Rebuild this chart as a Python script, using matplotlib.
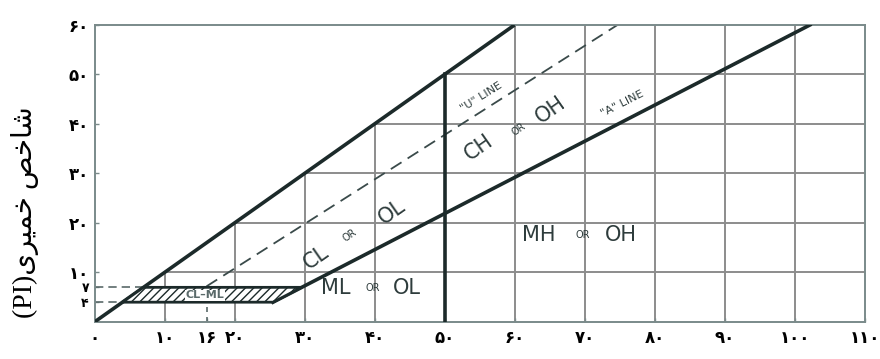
import matplotlib
matplotlib.use("Agg")
import matplotlib.pyplot as plt
from matplotlib.patches import Polygon

# ---- data ----
x_ticks = [0, 10, 16, 20, 30, 40, 50, 60, 70, 80, 90, 100, 110]
y_ticks = [4, 7, 10, 20, 30, 40, 50, 60]
grid_x = [10, 20, 30, 40, 50, 60, 70, 80, 90, 100]
grid_y = [10, 20, 30, 40, 50]

upper_ll = [0, 60]          # PI = LL limit line
upper_pi = [0, 60]
a_ll = [25.5, 102.2]        # "A" line
a_pi = [4, 60]
u_ll = [16, 74.7]           # "U" line
u_pi = [7.2, 60]
ll50_ll = [50, 50]
ll50_pi = [0, 50]
clml_ll = [4, 25.5, 29.6, 7]
clml_pi = [4, 4, 7, 7]

def fa(n):
    d = "۰۱۲۳۴۵۶۷۸۹"
    return "".join(d[int(c)] for c in str(n))

LINE = "#1c2a2a"
GRID = "#8c8c8c"
TXT = "#2e3c3c"

plt.rcParams["hatch.color"] = "#7a7a7a"
fig = plt.figure(figsize=(8.8, 3.59), dpi=100)
ax = fig.add_axes([0.1074, 0.1031, 0.875, 0.8273])
ax.set_xlim(0, 110)
ax.set_ylim(0, 60)

# grid segments only below the PI = LL line
for gy in grid_y:
    ax.plot([gy, 110], [gy, gy], color=GRID, lw=1.4, zorder=1)
for gx in grid_x:
    ax.plot([gx, gx], [0, min(gx, 60)], color=GRID, lw=1.4, zorder=1)

# main lines
ax.plot(upper_ll, upper_pi, color=LINE, lw=2.6, zorder=3, solid_capstyle="butt")
ax.plot(a_ll, a_pi, color=LINE, lw=2.6, zorder=3)
ax.plot(ll50_ll, ll50_pi, color=LINE, lw=2.6, zorder=3)
ax.plot(u_ll, u_pi, color="#3a4a4a", lw=1.3, ls=(0, (7, 4)), zorder=2)
ax.plot([u_ll[0], u_ll[0]], [0, u_pi[0]], color="#5a6a6a", lw=1.2, ls=(0, (3, 3)), zorder=2)
ax.plot([0, clml_ll[0]], [clml_pi[0], clml_pi[0]], color="#5a6a6a", lw=1.2, ls=(0, (5, 3)), zorder=2)
ax.plot([0, clml_ll[3]], [clml_pi[3], clml_pi[3]], color="#5a6a6a", lw=1.2, ls=(0, (5, 3)), zorder=2)

poly = Polygon(list(zip(clml_ll, clml_pi)), closed=True, facecolor="white",
               edgecolor=LINE, lw=2.0, hatch="////", zorder=3)
ax.add_patch(poly)

# labels
kw = dict(color=TXT, ha="center", va="center", zorder=5)
ax.text(15.8, 5.4, "CL–ML", fontsize=8, fontweight="bold", color="#5a6a6a",
        ha="center", va="center", zorder=6,
        bbox=dict(facecolor="white", edgecolor="none", pad=0.3))
ax.text(31.6, 13.1, "CL", fontsize=15, rotation=35, **kw)
ax.text(36.5, 17.4, "OR", fontsize=7, rotation=35, **kw)
ax.text(42.5, 22.2, "OL", fontsize=15, rotation=35, **kw)
ax.text(54.9, 35.2, "CH", fontsize=15, rotation=35, **kw)
ax.text(60.6, 39.0, "OR", fontsize=7, rotation=35, **kw)
ax.text(65.2, 42.8, "OH", fontsize=15, rotation=35, **kw)
ax.text(63.5, 17.6, "MH", fontsize=15, **kw)
ax.text(69.7, 17.6, "OR", fontsize=7, **kw)
ax.text(75.2, 17.6, "OH", fontsize=15, **kw)
ax.text(34.5, 6.9, "ML", fontsize=15, **kw)
ax.text(39.8, 6.9, "OR", fontsize=7, **kw)
ax.text(44.6, 6.9, "OL", fontsize=15, **kw)
ax.text(55.2, 45.5, '"U" LINE', fontsize=8, rotation=32, **kw)
ax.text(75.4, 44.0, '"A" LINE', fontsize=8, rotation=27, **kw)

# axes styling
for s in ax.spines.values():
    s.set_color("#7a8a8a")
    s.set_linewidth(1.4)
ax.set_xticks(x_ticks)
ax.set_xticklabels([fa(v) for v in x_ticks])
ax.set_yticks(y_ticks)
ax.set_yticklabels([fa(v) for v in y_ticks])
ax.tick_params(axis="both", direction="in", length=3, width=1, colors="#7a8a8a",
               labelcolor="black")
ax.tick_params(axis="x", pad=5, labelsize=12)
ax.tick_params(axis="y", pad=4, labelsize=12)
for lab in ax.get_xticklabels() + ax.get_yticklabels():
    lab.set_fontweight("bold")
for lab, v in zip(ax.get_yticklabels(), y_ticks):
    if v < 10:
        lab.set_fontsize(9)

# Persian y-axis label (pre-shaped presentation forms, visual order)
ylabel = "(PI)" + "\ufeef\ufeae\ufef4\ufee4\ufea7 \ufeba\ufea7\ufe8e\ufeb7"
fig.text(25 / 880, 1 - 212 / 359, ylabel, rotation=90, fontsize=20,
         family=["Liberation Serif", "DejaVu Sans"], ha="center", va="center")

fig.savefig("out.png", dpi=100)
